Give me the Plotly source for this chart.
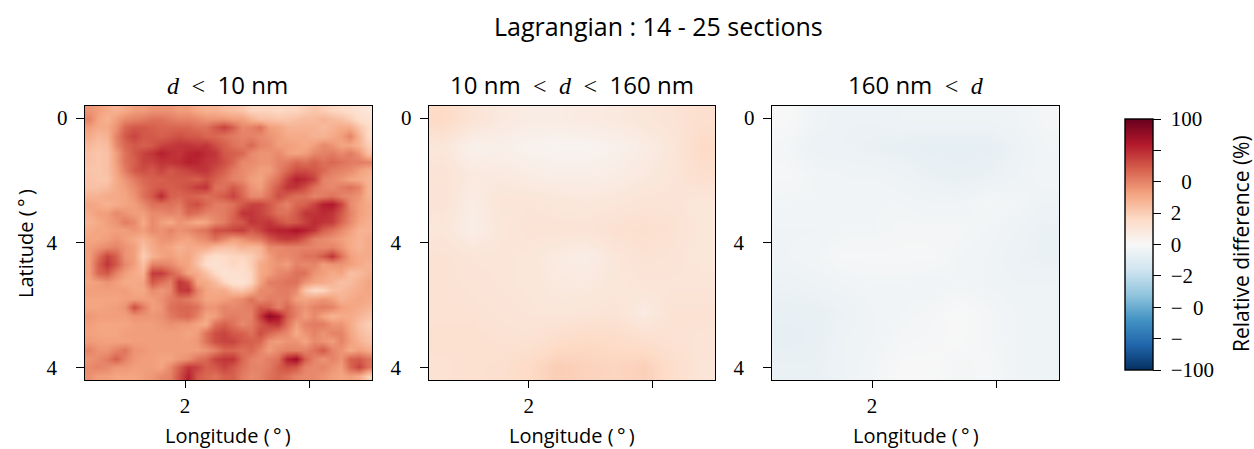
import numpy as np
import plotly.graph_objects as go

SUPTITLE = "Lagrangian : 14 - 25 sections"
S = '<span style="font-family:Liberation Serif">'
D = '<span style="font-family:Liberation Serif;font-style:italic">d</span>'
PANEL_TITLES = [
    f'{D}\u00a0 {S}&lt;</span>\u00a0 10 nm',
    f'10 nm\u00a0 {S}&lt;</span>\u00a0 {D}\u00a0 {S}&lt;</span>\u00a0 160 nm',
    f'160 nm\u00a0 {S}&lt;</span>\u00a0 {D}',
]
X_LABEL = "Longitude (\u2009°\u2009)"
Y_LABEL = "Latitude (\u2009°\u2009)"
CB_LABEL = "Relative difference (%)"
X_TICKS = [0, 1]
X_TICK_TEXT = ["2", ""]
Y_TICKS = [0, 1, 2]
Y_TICK_TEXT = ["0", "4\u00a0\u00a0", "4\u00a0\u00a0"]
CB_TICKS = [100, 75, 50, 25, 0, -25, -50, -75, -100]
CB_TICK_TEXT = ["\u00a0100", "", "\u00a0\u00a0\u00a00", "\u00a02", "\u00a00", "\u00a0\u22122", "\u00a0\u2212\u00a0\u00a00", "\u00a0\u2212", "\u00a0\u2212100"]

small = [
    [45,42,38,35,38,42,42,45,45,45,42,42,38,35,35,32,30,28,22,22,22,20,22,22,25,28,25,22,20,18,15,12],
    [50,40,35,42,48,50,52,55,55,52,50,50,48,45,45,45,42,42,35,30,30,28,28,30,32,32,35,32,30,25,18,15],
    [42,38,38,45,58,62,62,60,58,58,58,58,55,55,62,68,60,48,50,55,42,40,35,35,35,35,32,35,38,38,28,20],
    [38,33,35,50,62,68,62,62,60,62,65,62,62,58,58,55,52,50,50,48,45,42,38,38,38,35,35,38,42,50,35,20],
    [33,30,32,48,58,62,60,62,68,70,72,72,70,72,65,60,55,52,58,50,48,42,42,40,38,42,48,45,40,40,35,25],
    [30,28,30,42,55,62,68,72,78,74,72,76,78,74,72,62,60,58,48,45,45,48,42,40,42,48,50,52,48,52,45,30],
    [30,28,30,42,55,60,68,68,72,72,74,78,76,72,70,65,58,48,48,45,45,50,52,58,55,60,55,58,55,52,52,50],
    [28,28,30,40,52,62,65,62,68,62,66,68,72,72,65,60,52,48,45,42,42,50,58,65,65,62,58,52,50,48,42,38],
    [30,28,28,38,45,52,58,60,60,62,62,62,60,65,60,55,50,48,42,40,48,55,68,78,75,68,50,48,45,40,38,35],
    [30,30,32,38,42,48,55,60,62,60,62,65,70,72,55,55,62,55,45,42,52,62,72,72,65,55,50,48,52,55,50,35],
    [35,35,38,38,40,45,55,62,75,60,58,60,58,55,58,62,68,58,48,48,55,65,60,55,55,50,52,55,50,48,45,35],
    [40,38,35,38,40,42,48,55,55,55,52,62,65,58,52,52,55,62,68,68,62,55,50,58,60,68,78,80,68,48,42,38],
    [38,42,42,48,45,42,42,48,48,50,48,58,55,50,50,52,58,72,72,68,62,55,55,62,72,72,75,72,62,50,42,38],
    [35,38,42,45,52,48,38,48,42,38,45,42,38,40,48,52,60,62,72,70,72,65,60,62,68,75,72,70,58,48,40,36],
    [38,40,40,42,42,45,42,48,45,50,45,48,52,55,65,65,68,70,62,68,75,78,78,82,78,72,60,55,48,42,35,35],
    [40,40,42,45,42,38,35,40,45,45,42,40,45,48,55,48,42,45,50,52,62,68,70,68,60,50,48,45,42,38,35,38],
    [42,45,48,50,45,42,30,38,42,40,35,38,38,38,32,30,30,35,33,35,48,48,50,50,50,50,48,50,45,38,35,38],
    [42,55,68,60,45,42,25,35,40,42,38,40,32,22,18,20,22,22,25,32,42,48,48,50,55,55,62,72,55,42,38,38],
    [42,60,72,62,48,42,30,50,50,48,42,40,30,18,15,18,22,18,25,38,42,45,42,50,48,50,42,45,45,42,38,35],
    [42,58,62,50,42,38,35,70,70,60,52,40,38,30,20,14,16,17,22,38,42,48,50,55,55,45,42,38,40,30,32,36],
    [40,42,45,42,38,38,40,62,55,50,72,65,40,38,32,22,15,15,22,40,52,52,55,55,45,40,38,35,30,32,36,40],
    [42,42,42,42,42,39,39,48,44,48,70,72,50,40,38,38,30,28,35,48,48,52,52,48,28,20,22,30,32,35,38,40],
    [40,40,40,40,42,42,42,42,46,52,55,52,47,40,40,42,45,48,55,48,52,50,52,42,40,42,45,42,35,38,40,38],
    [40,40,41,42,45,65,52,42,44,55,58,58,55,45,45,50,48,50,52,62,60,50,58,50,45,50,52,50,42,40,38,35],
    [44,42,42,42,42,45,45,44,46,52,56,58,50,40,42,50,52,50,50,70,90,82,60,50,42,48,40,35,38,38,34,30],
    [42,40,40,40,40,42,42,42,44,46,44,44,40,38,55,60,55,48,52,62,70,72,55,42,50,52,52,45,45,38,30,25],
    [41,40,40,40,42,42,42,42,42,42,42,40,42,55,65,68,62,60,55,65,58,52,48,38,45,50,45,50,50,40,32,28],
    [43,42,41,41,41,42,42,42,42,42,42,42,44,55,65,68,68,62,60,58,45,42,45,45,40,48,45,42,50,42,35,30],
    [50,45,45,50,54,45,44,42,42,42,42,42,42,45,50,58,58,55,58,50,42,48,50,50,50,55,62,50,45,38,42,38],
    [45,48,52,60,50,44,42,42,40,40,44,46,54,58,68,72,72,58,50,48,52,55,78,85,60,50,45,50,45,60,62,55],
    [48,50,48,44,44,42,42,42,40,48,60,72,68,60,62,68,62,55,50,50,52,60,65,62,50,48,50,45,42,58,68,55],
    [46,42,42,40,40,40,42,44,48,50,64,78,62,58,55,60,60,52,48,50,55,58,55,50,48,48,45,42,40,42,38,25],
]
medium = [
    [20,14,10,8,8,9,10,12,14,17],
    [12,5,6,4,3,3,5,8,12,20],
    [14,10,10,8,7,7,8,10,13,17],
    [14,8,13,13,12,11,12,14,14,12],
    [12,7,12,14,14,14,16,17,15,12],
    [15,13,13,12,9,7,12,15,14,12],
    [15,14,13,12,10,10,12,13,13,13],
    [15,15,14,13,12,13,14,9,15,15],
    [16,16,15,15,18,20,19,17,15,14],
    [15,16,17,20,25,23,22,24,18,13],
]
large = [
    [0,-4,-6,-6,-5,-5,-5,-5,-4,-2],
    [-2,-6,-6,-7,-8,-9,-9,-9,-6,-3],
    [-1,-3,-4,-4,-5,-7,-8,-7,-5,-3],
    [-3,-3,-3,-3,-3,-4,-4,-2,-3,-5],
    [-4,-4,-3,-3,-2,-2,-2,-3,-5,-7],
    [-4,-3,-1,-1,-1,-1,-3,-4,-6,-7],
    [-6,-5,-4,-3,-3,-4,-3,-4,-5,-5],
    [-8,-8,-6,-4,-3,-2,0,-2,-4,-5],
    [-9,-8,-5,-4,-2,-1,0,-2,-4,-5],
    [-7,-7,-5,-3,0,0,-2,-1,-4,-5],
]
PANELS = [small, medium, large]

W, H = 1254, 449
SANS = "Open Sans"
SERIF = "Liberation Serif"
X_PIX = [(85, 372), (429, 715), (772, 1059)]
Y_TOP, Y_BOT = 106, 380
PX_PER_TICK = 124.7
X_RANGE = [-(185 - 85) / PX_PER_TICK, (372 - 185) / PX_PER_TICK]
Y_RANGE = [(380 - 118) / PX_PER_TICK, -(118 - 106) / PX_PER_TICK]

fig = go.Figure()
for i, (z, (x0, x1)) in enumerate(zip(PANELS, X_PIX), start=1):
    arr = np.array(z, dtype=float)
    ny, nx = arr.shape
    xs = X_RANGE[0] + (np.arange(nx) + 0.5) / nx * (X_RANGE[1] - X_RANGE[0])
    ys = Y_RANGE[1] + (np.arange(ny) + 0.5) / ny * (Y_RANGE[0] - Y_RANGE[1])
    fig.add_trace(go.Heatmap(z=arr, x=xs, y=ys, coloraxis="coloraxis", zsmooth="best",
                             xaxis=f"x{i}", yaxis=f"y{i}", showscale=i == 1))
    common = dict(showline=True, mirror=True, linecolor="black", linewidth=1.4,
                  ticks="outside", tickwidth=1.4, tickcolor="black",
                  showgrid=False, zeroline=False, tickmode="array",
                  tickfont=dict(family=SERIF, size=21, color="black"))
    fig.update_layout({
        f"xaxis{i}": dict(domain=[x0 / W, x1 / W], range=X_RANGE, anchor=f"y{i}", ticklen=7,
                          tickvals=X_TICKS, ticktext=X_TICK_TEXT, **common),
        f"yaxis{i}": dict(domain=[1 - Y_BOT / H, 1 - Y_TOP / H], range=Y_RANGE, anchor=f"x{i}", ticklen=8,
                          ticklabelstandoff=4,
                          tickvals=Y_TICKS, ticktext=Y_TICK_TEXT, **common),
    })

def note(text, x, y, size, angle=0):
    fig.add_annotation(text=text, x=x / W, y=1 - y / H, xref="paper", yref="paper",
                       showarrow=False, textangle=angle, xanchor="center", yanchor="middle",
                       font=dict(family=SANS, size=size, color="black"))

note(SUPTITLE, 658, 26, 25)
for title, cx in zip(PANEL_TITLES, [227, 572, 916]):
    note(title, cx, 85, 24)
for cx in [228, 572, 916]:
    note(X_LABEL, cx, 435, 20)
note(Y_LABEL, 25, 244, 20, -90)
note(CB_LABEL, 1241, 244, 21, -90)

fig.update_layout(
    width=W, height=H, margin=dict(l=0, r=0, t=0, b=0),
    paper_bgcolor="white", plot_bgcolor="white",
    coloraxis=dict(
        colorscale="RdBu_r", cmin=-100, cmax=100,
        colorbar=dict(x=1125 / W, xanchor="left", xpad=0, y=1 - (119 + 125.5) / H, yanchor="middle", ypad=0,
                      thickness=28, thicknessmode="pixels", len=251, lenmode="pixels",
                      outlinecolor="black", outlinewidth=1.4,
                      ticks="outside", ticklen=8, tickwidth=1.4, tickcolor="black",
                      tickmode="array", tickvals=CB_TICKS, ticktext=CB_TICK_TEXT,
                      tickfont=dict(family=SERIF, size=21, color="black")),
    ),
)
fig.write_html("out.html", post_script="document.body.style.margin='0';",
               config={"displayModeBar": False})
